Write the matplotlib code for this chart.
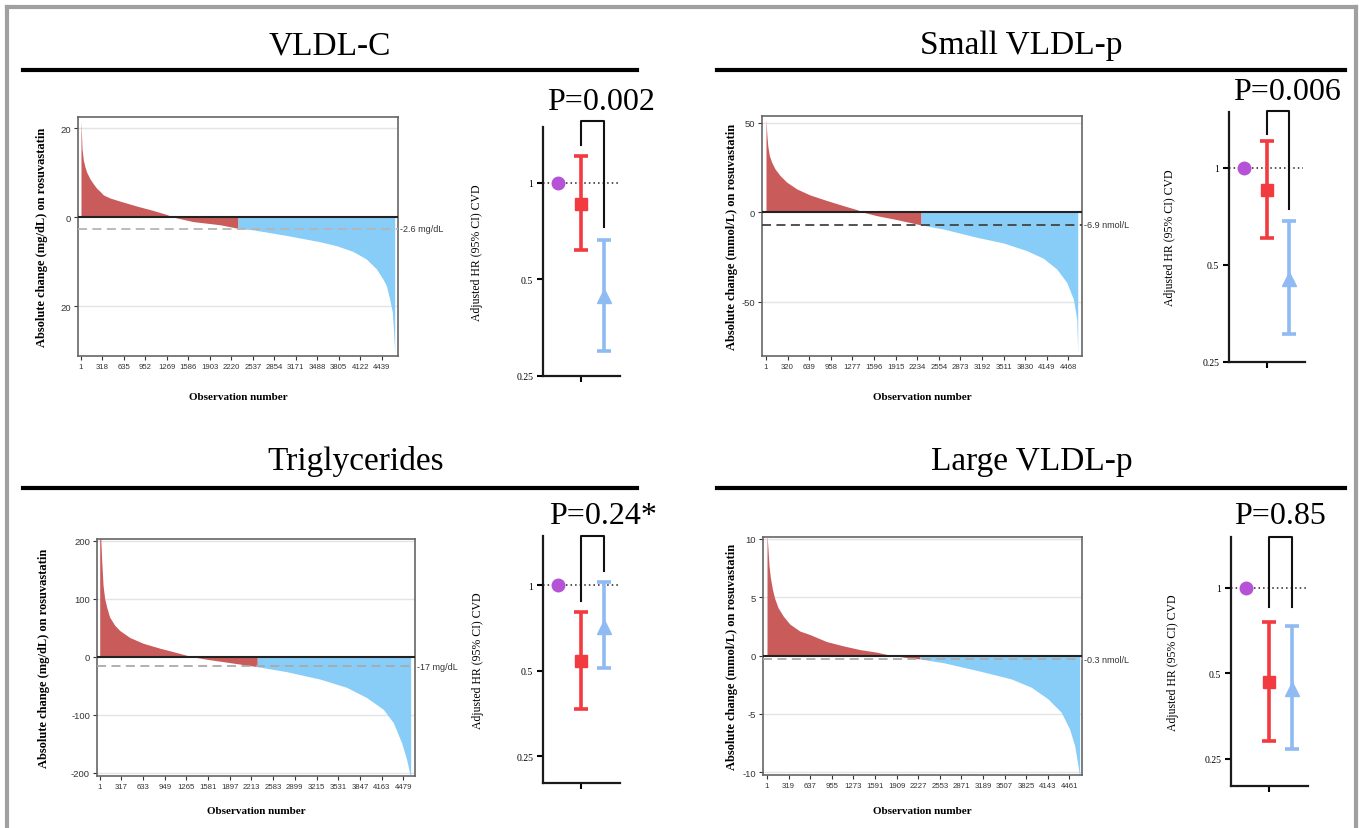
import numpy as np
import matplotlib
matplotlib.use("Agg")
import matplotlib.pyplot as plt
from matplotlib.lines import Line2D

# ---------------- data ----------------
titles = ["VLDL-C", "Small VLDL-p", "Triglycerides", "Large VLDL-p"]

# waterfall curves (sorted absolute change per participant, read at points)
vldlc_obs = [1, 16, 36, 60, 85, 134, 183, 232, 281, 330, 429, 576, 822, 1068, 1265, 1364,
             1655, 2050, 2318, 2540, 3030, 3520, 3770, 4015, 4212, 4360, 4458, 4508, 4557,
             4597, 4616, 4631]
vldlc_val = [21.7, 15.4, 12.8, 11.3, 10.1, 8.6, 7.5, 6.5, 5.8, 5.0, 4.3, 3.6, 2.5, 1.5, 0.6, 0,
             -1.0, -1.7, -2.5, -2.85, -4.1, -5.5, -6.4, -7.7, -9.4, -11.6, -13.9, -15.4, -18.4,
             -21.4, -25.9, -30.4]
vldlc_cut, vldlc_mean = 2318, -2.6

svldl_obs = [1, 11, 26, 50, 85, 134, 208, 306, 454, 651, 897, 1144, 1341, 1439, 1636, 1932,
             2292, 2622, 3115, 3509, 3854, 4100, 4297, 4445, 4543, 4593, 4607]
svldl_val = [52, 45, 37.5, 31.8, 28, 24.3, 20.6, 16.9, 13.1, 9.7, 6.6, 3.7, 1.5, 0, -1.9, -4.1,
             -7.1, -9.4, -14, -17.2, -21.5, -25.8, -31.8, -39.3, -48.7, -60, -78.7]
svldl_cut, svldl_mean = 2292, -6.9

tg_obs = [1, 16, 31, 50, 74, 109, 148, 222, 296, 443, 640, 886, 1132, 1355, 1575, 1920, 2325,
          2757, 3250, 3643, 3939, 4185, 4333, 4456, 4530, 4579, 4588]
tg_val = [240, 204, 164, 123, 100, 83, 68, 54, 45, 33, 23, 14.5, 7, 0, -4.6, -10.4, -17.4,
          -26, -38.8, -53, -70.7, -91, -114, -149, -178, -204, -210]
tg_cut, tg_mean = 2325, -17

lvldl_obs = [1, 16, 31, 50, 80, 114, 164, 238, 336, 484, 632, 878, 1125, 1371, 1617, 1839,
             1909, 2012, 2257, 2616, 3110, 3603, 3898, 4145, 4342, 4465, 4539, 4588, 4613]
lvldl_val = [10.4, 9.1, 7.7, 6.7, 5.7, 4.9, 4.1, 3.4, 2.7, 2.1, 1.8, 1.2, 0.83, 0.51, 0.29, 0.0,
             -0.02, -0.14, -0.29, -0.63, -1.29, -2.0, -2.71, -3.71, -4.86, -6.3, -7.7, -9.4, -10.4]
lvldl_cut, lvldl_mean = 2257, -0.3

mean_labels = ["-2.6 mg/dL", "-6.9 nmol/L", "-17 mg/dL", "-0.3 nmol/L"]
wf_ylabels = ["Absolute change (mg/dL) on rosuvastatin",
              "Absolute change (mmol/L) on rosuvastatin",
              "Absolute change (mg/dL) on rosuvastatin",
              "Absolute change (mmol/L) on rosuvastatin"]

vldlc_xt = ['1', '318', '635', '952', '1269', '1586', '1903', '2220', '2537', '2854',
            '3171', '3488', '3805', '4122', '4439']
svldl_xt = ['1', '320', '639', '958', '1277', '1596', '1915', '2234', '2554', '2873',
            '3192', '3511', '3830', '4149', '4468']
tg_xt = ['1', '317', '633', '949', '1265', '1581', '1897', '2213', '2583', '2899',
         '3215', '3531', '3847', '4163', '4479']
lvldl_xt = ['1', '319', '637', '955', '1273', '1591', '1909', '2227', '2553', '2871',
            '3189', '3507', '3825', '4143', '4461']

vldlc_yt, vldlc_ytl = [20, 0, -20], ["20", "0", "20"]
svldl_yt, svldl_ytl = [50, 0, -50], ["50", "0", "-50"]
tg_yt, tg_ytl = [200, 100, 0, -100, -200], ["200", "100", "0", "-100", "-200"]
lvldl_yt, lvldl_ytl = [10, 5, 0, -5, -10], ["10", "5", "0", "-5", "-10"]

# forest: reference (1.0), red group, blue group
ref_hr = [1.0, 1.0, 1.0, 1.0]
red_hr = [0.86, 0.852, 0.543, 0.466]
red_lo = [0.615, 0.605, 0.368, 0.288]
red_hi = [1.21, 1.21, 0.808, 0.756]
blue_hr = [0.443, 0.452, 0.712, 0.438]
blue_lo = [0.299, 0.306, 0.512, 0.269]
blue_hi = [0.665, 0.684, 1.027, 0.732]
p_labels = ["P=0.002", "P=0.006", "P=0.24*", "P=0.85"]
bracket_top = [1.55, 1.50, 1.49, 1.51]
bracket_left = [1.31, 1.27, 0.878, 0.854]
bracket_right = [0.73, 0.747, 1.125, 0.854]
hr_ticks = [1, 0.5, 0.25]
hr_ticklabels = ["1", "0.5", "0.25"]

# ---------------- style ----------------
RED_W = "#C95B5B"
BLUE_W = "#87CDF8"
PURPLE = "#B552D6"
RED_F = "#F23B40"
BLUE_F = "#90BAF2"
SERIF = "Liberation Serif"
SANS = "Liberation Sans"

W, H = 1359, 829
fig = plt.figure(figsize=(W / 100, H / 100), dpi=100)


def rect(l, t, r, b):
    return [l / W, 1 - b / H, (r - l) / W, (b - t) / H]


def waterfall(box, obs, val, cut, mean, mlabel, xtl, yt, ytl, ylim, xlim,
              ylabel, ylab_x, xlab_y, dash_color):
    ax = fig.add_axes(rect(*box))
    obs = np.asarray(obs, float)
    val = np.asarray(val, float)
    k = int(np.searchsorted(obs, cut))
    ax.fill_between(obs[:k + 1], val[:k + 1], 0, color=RED_W, lw=0, zorder=2)
    ax.fill_between(obs[k:], val[k:], 0, color=BLUE_W, lw=0, zorder=2)
    for y in yt:
        if y != 0:
            ax.axhline(y, color="#e4e4e4", lw=1.0, zorder=1)
    ax.axhline(0, color="#222222", lw=1.5, zorder=3)
    ax.axhline(mean, color=dash_color, lw=1.3, ls=(0, (5, 3)), zorder=3)
    ax.text(1.006, mean, mlabel, transform=ax.get_yaxis_transform(),
            ha="left", va="center", fontsize=6.5, family=SANS, color="#333333")
    ax.set_xlim(*xlim)
    ax.set_ylim(*ylim)
    xpos = np.linspace(float(xtl[0]), float(xtl[-1]), len(xtl))
    ax.set_xticks(xpos)
    ax.set_xticklabels(xtl)
    ax.set_yticks(yt)
    ax.set_yticklabels(ytl)
    ax.tick_params(colors="#333333", length=3, width=0.8, pad=2)
    ax.tick_params(axis="x", labelsize=5.6)
    ax.tick_params(axis="y", labelsize=6.8)
    for lab in ax.get_xticklabels() + ax.get_yticklabels():
        lab.set_family(SANS)
    for s in ax.spines.values():
        s.set_color("#666666")
        s.set_linewidth(1.2)
    ax.set_ylabel(ylabel, family=SERIF, fontweight="bold", fontsize=9)
    ax.yaxis.set_label_coords(ylab_x, 0.5)
    ax.set_xlabel("Observation number", family=SERIF, fontweight="bold", fontsize=8)
    ax.xaxis.set_label_coords(0.5, xlab_y)
    return ax


def forest(box, i, ylim, ylab_x):
    ax = fig.add_axes(rect(*box))
    ax.set_yscale("log")
    ax.set_ylim(*ylim)
    ax.set_xlim(-0.65, 2.68)
    ax.plot([-0.65, 2.6], [ref_hr[i], ref_hr[i]], ls=(0, (1, 2)), color="#222222", lw=1.1, zorder=1)
    ax.plot([0], [ref_hr[i]], "o", color=PURPLE, ms=9, zorder=3)
    ax.errorbar([1], [red_hr[i]], yerr=[[red_hr[i] - red_lo[i]], [red_hi[i] - red_hr[i]]],
                fmt="s", color=RED_F, ms=9, elinewidth=2.6, capsize=5, capthick=2.6, zorder=3)
    ax.errorbar([2], [blue_hr[i]], yerr=[[blue_hr[i] - blue_lo[i]], [blue_hi[i] - blue_hr[i]]],
                fmt="^", color=BLUE_F, ms=10, elinewidth=2.6, capsize=5, capthick=2.6, zorder=3)
    ax.plot([1, 1, 2, 2], [bracket_left[i], bracket_top[i], bracket_top[i], bracket_right[i]],
            color="#111111", lw=1.5, clip_on=False, zorder=2)
    ax.spines["top"].set_visible(False)
    ax.spines["right"].set_visible(False)
    for s in ("left", "bottom"):
        ax.spines[s].set_linewidth(1.6)
        ax.spines[s].set_color("#1a1a1a")
    ax.set_yticks(hr_ticks)
    ax.set_yticklabels(hr_ticklabels)
    ax.yaxis.set_minor_locator(matplotlib.ticker.NullLocator())
    ax.set_xticks([1])
    ax.set_xticklabels([""])
    ax.tick_params(axis="both", labelsize=7, length=4, width=1.5, pad=3)
    for lab in ax.get_yticklabels():
        lab.set_family(SERIF)
    ax.set_ylabel("Adjusted HR (95% CI) CVD", family=SERIF, fontsize=8.5)
    ax.yaxis.set_label_coords(ylab_x, 0.5)
    return ax


# ---------------- waterfalls ----------------
waterfall((78, 118, 398, 357), vldlc_obs, vldlc_val, vldlc_cut, vldlc_mean, mean_labels[0],
          vldlc_xt, vldlc_yt, vldlc_ytl, (-31.2, 22.5), (-43, 4680), wf_ylabels[0],
          -0.094, -0.15, "#b5b5b5")
waterfall((762, 117, 1082, 357), svldl_obs, svldl_val, svldl_cut, svldl_mean, mean_labels[1],
          svldl_xt, svldl_yt, svldl_ytl, (-80.5, 53.9), (-58, 4670), wf_ylabels[1],
          -0.075, -0.15, "#444444")
waterfall((97, 540, 415, 777), tg_obs, tg_val, tg_cut, tg_mean, mean_labels[2],
          tg_xt, tg_yt, tg_ytl, (-205.8, 202.6), (-39, 4652), wf_ylabels[2],
          -0.147, -0.125, "#aaaaaa")
waterfall((763, 538, 1082, 776), lvldl_obs, lvldl_val, lvldl_cut, lvldl_mean, mean_labels[3],
          lvldl_xt, lvldl_yt, lvldl_ytl, (-10.23, 10.15), (-58, 4648), wf_ylabels[3],
          -0.079, -0.13, "#aaaaaa")

# ---------------- forests ----------------
forest((543, 128, 620, 377), 0, (0.25, 1.49), -0.775)
forest((1229, 113, 1305, 363), 1, (0.25, 1.49), -0.695)
forest((543, 537, 620, 784), 2, (0.2017, 1.49), -0.76)
forest((1231, 538, 1308, 787), 3, (0.2, 1.51), -0.68)

# ---------------- titles, rules, p-values ----------------
def fx(x):
    return x / W


def fy(y):
    return 1 - y / H


title_pos = [(330, 46), (1021, 46), (356, 462), (1032, 462)]
for t, (x, y) in zip(titles, title_pos):
    fig.text(fx(x), fy(y), t, ha="center", va="center", family=SERIF, fontsize=24)

for (x0, x1, y) in [(23, 637, 71), (717, 1345, 71), (23, 637, 489), (717, 1345, 489)]:
    fig.add_artist(Line2D([fx(x0), fx(x1)], [fy(y), fy(y)], color="black", lw=3.0,
                          transform=fig.transFigure))

p_pos = [(601, 103), (1287, 93), (603, 517), (1280, 517)]
for p, (x, y) in zip(p_labels, p_pos):
    fig.text(fx(x), fy(y), p, ha="center", va="center", family=SERIF, fontsize=23)

# outer grey frame
frame_kw = dict(color="#a0a0a0", lw=3.0, transform=fig.transFigure)
fig.add_artist(Line2D([fx(7), fx(7)], [fy(8), 0], **frame_kw))
fig.add_artist(Line2D([fx(7), fx(1356)], [fy(8), fy(8)], **frame_kw))
fig.add_artist(Line2D([fx(1356), fx(1356)], [fy(8), 0], **frame_kw))

fig.savefig("out.png", dpi=100)
